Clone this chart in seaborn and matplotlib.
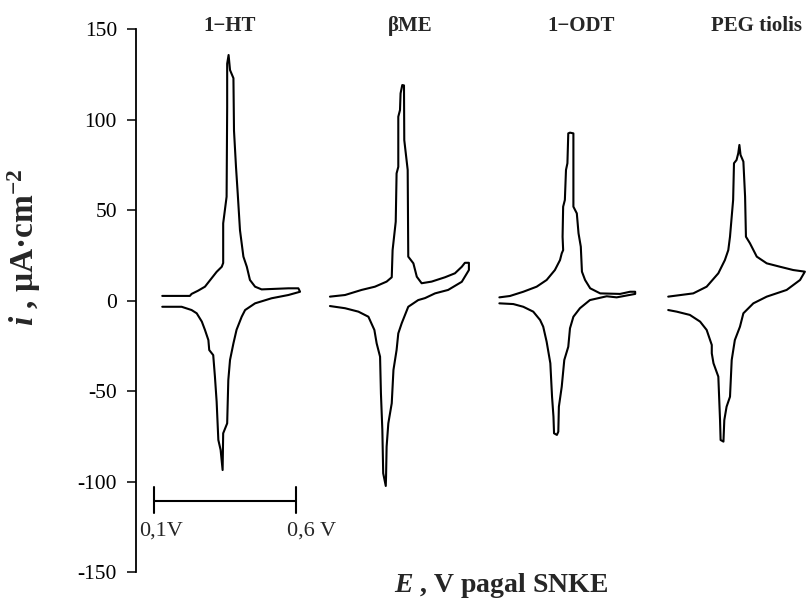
import matplotlib
matplotlib.use("Agg")
import pandas as pd
import matplotlib.pyplot as plt
import seaborn as sns

# cyclic voltammograms, potential on a common local scale (V), current in uA/cm2
# each trace: forward sweep left -> right, then back sweep right -> left
HT_E = [0.129, 0.226, 0.232, 0.255, 0.279, 0.303, 0.320, 0.338, 0.343, 0.343,
        0.355, 0.357, 0.357, 0.362, 0.367, 0.379, 0.381, 0.388, 0.394, 0.402,
        0.414, 0.426, 0.437, 0.455, 0.478, 0.572, 0.607, 0.613,
        0.572, 0.513, 0.455, 0.420, 0.408, 0.390, 0.379, 0.367, 0.361, 0.357,
        0.343, 0.341, 0.334, 0.326, 0.320, 0.314, 0.308, 0.294, 0.291, 0.279,
        0.268, 0.250, 0.232, 0.197, 0.129]
HT_I = [2.7, 2.7, 3.8, 5.6, 7.8, 12.6, 16.0, 18.8, 20.9, 42.8,
        57.5, 107.0, 131.0, 135.8, 127.5, 123.0, 94.0, 74.0, 59.4, 39.0,
        24.4, 18.8, 11.5, 7.8, 6.3, 6.9, 6.9, 5.0,
        3.2, 1.4, -1.4, -5.1, -8.8, -16.0, -23.5, -32.7, -43.8, -67.7,
        -73.2, -93.5, -82.4, -76.9, -55.7, -41.9, -30.0, -27.2, -21.7, -16.1,
        -11.5, -6.9, -5.1, -3.3, -3.3]

BME_E = [0.128, 0.181, 0.239, 0.286, 0.327, 0.345, 0.348, 0.359, 0.362, 0.368,
         0.368, 0.374, 0.376, 0.382, 0.388, 0.389, 0.401, 0.403, 0.421, 0.433,
         0.450, 0.485, 0.532, 0.567, 0.591, 0.602, 0.616,
         0.616, 0.591, 0.543, 0.497, 0.462, 0.438, 0.403, 0.380, 0.368, 0.362,
         0.351, 0.345, 0.333, 0.327, 0.325, 0.324, 0.315, 0.312, 0.307, 0.304,
         0.292, 0.284, 0.263, 0.228, 0.181, 0.128]
BME_I = [2.3, 3.2, 6.0, 7.8, 10.6, 13.0, 28.0, 43.7, 70.4, 74.0,
         101.7, 105.4, 114.6, 119.2, 119.0, 88.8, 72.3, 24.4, 20.7, 13.3,
         9.7, 10.6, 13.0, 15.2, 18.8, 21.0, 21.0,
         17.0, 10.5, 6.0, 4.1, 1.5, 0.4, -3.3, -12.4, -18.0, -27.2,
         -38.2, -56.6, -67.7, -80.6, -97.2, -102.3, -95.3, -71.4, -51.1, -30.9,
         -23.5, -16.1, -8.8, -6.0, -4.1, -2.9]

ODT_E = [0.133, 0.170, 0.217, 0.264, 0.299, 0.328, 0.346, 0.352, 0.357, 0.355,
         0.357, 0.363, 0.367, 0.372, 0.375, 0.381, 0.393, 0.393, 0.405, 0.411,
         0.419, 0.423, 0.434, 0.452, 0.487, 0.557, 0.592, 0.610,
         0.610, 0.545, 0.510, 0.451, 0.416, 0.393, 0.381, 0.375, 0.361, 0.352,
         0.342, 0.340, 0.335, 0.325, 0.323, 0.318, 0.312, 0.299, 0.287, 0.276,
         0.252, 0.217, 0.182, 0.133]
ODT_I = [1.9, 2.65, 5.0, 7.8, 11.5, 17.0, 22.5, 26.2, 28.0, 35.4,
         52.0, 55.7, 72.3, 76.0, 92.5, 92.9, 92.5, 52.0, 48.3, 37.3,
         29.9, 16.1, 11.5, 6.9, 4.1, 3.8, 5.0, 5.0,
         3.8, 1.9, 2.5, 0.4, -4.1, -8.8, -15.2, -25.4, -32.7, -47.5,
         -58.5, -72.3, -74.1, -73.2, -64.0, -53.0, -34.5, -22.6, -14.3, -10.6,
         -6.0, -3.3, -1.8, -1.4]

PEG_E = [0.136, 0.224, 0.271, 0.312, 0.335, 0.347, 0.353, 0.359, 0.364, 0.367,
         0.376, 0.382, 0.386, 0.390, 0.400, 0.406, 0.409, 0.423, 0.447, 0.482,
         0.529, 0.575, 0.616,
         0.599, 0.552, 0.482, 0.435, 0.400, 0.388, 0.370, 0.359, 0.353, 0.341,
         0.333, 0.330, 0.320, 0.318, 0.312, 0.295, 0.289, 0.289, 0.271, 0.248,
         0.212, 0.166, 0.136]
PEG_I = [2.3, 4.1, 7.8, 15.2, 22.5, 28.0, 35.4, 46.5, 55.7, 76.0,
         77.8, 81.5, 86.1, 80.6, 76.9, 57.5, 35.4, 31.8, 24.4, 20.7,
         18.8, 17.0, 16.1,
         11.5, 6.0, 2.3, -1.4, -6.9, -14.3, -21.7, -32.7, -53.0, -58.5,
         -65.9, -77.8, -76.9, -65.9, -41.9, -34.5, -29.0, -24.4, -16.1, -11.5,
         -7.8, -6.0, -5.1]

SAMPLES = ["1−HT", "βME", "1−ODT", "PEG tiolis"]
Y_TICKS = [-150, -100, -50, 0, 50, 100, 150]
SCALE_BAR = [0.1, 0.6]
SCALE_LABELS = ["0,1V", "0,6 V"]

# horizontal shift between the stacked voltammograms (V)
SHIFT = 0.59
TITLE_X = [0.367, 0.409, 0.419, 0.447]

sns.set_theme(style="white")
plt.rcParams["font.family"] = ["Liberation Serif", "DejaVu Serif"]
plt.rcParams["axes.unicode_minus"] = False
plt.rcParams["mathtext.fontset"] = "custom"
plt.rcParams["mathtext.rm"] = "Liberation Serif"
plt.rcParams["mathtext.it"] = "Liberation Serif:italic"
plt.rcParams["mathtext.bf"] = "Liberation Serif:bold"
plt.rcParams["mathtext.bfit"] = "Liberation Serif:italic:bold"

curves = [(HT_E, HT_I), (BME_E, BME_I), (ODT_E, ODT_I), (PEG_E, PEG_I)]
frames = []
for k, (name, (e, i)) in enumerate(zip(SAMPLES, curves)):
    frames.append(pd.DataFrame({
        "E": [v + k * SHIFT for v in e],
        "i": i,
        "sample": name,
    }))
df = pd.concat(frames, ignore_index=True)

fig = plt.figure(figsize=(8.12, 6.0), dpi=100)
ax = fig.add_axes([136 / 812, 27.7 / 600, 676 / 812, 543 / 600])

sns.lineplot(data=df, x="E", y="i", units="sample", estimator=None, sort=False,
             color="black", linewidth=1.5, ax=ax)

for k, name in enumerate(SAMPLES):
    ax.text(TITLE_X[k] + k * SHIFT, 151.8, name, ha="center", va="center",
            fontsize=15, fontweight="bold", clip_on=False)

# potential scale bar instead of an x axis
ax.plot(SCALE_BAR, [-110.4, -110.4], color="black", lw=1.5)
for xv in SCALE_BAR:
    ax.plot([xv, xv], [-102.7, -117.4], color="black", lw=1.5)
ax.text(SCALE_BAR[0] + 0.024, -127, SCALE_LABELS[0], ha="center", va="center", fontsize=16)
ax.text(SCALE_BAR[1] + 0.055, -127, SCALE_LABELS[1], ha="center", va="center", fontsize=16)

ax.set_xlim(0.0368, 2.411)
ax.set_ylim(-150, 150)
ax.set_yticks(Y_TICKS)
ax.set_yticklabels([str(t) for t in Y_TICKS])
ax.set_xticks([])
ax.set_xlabel("")
ax.set_ylabel("")
for side in ["top", "right", "bottom"]:
    ax.spines[side].set_visible(False)
ax.spines["left"].set_color("black")
ax.spines["left"].set_linewidth(1.3)
ax.tick_params(axis="y", direction="out", length=6.7, width=1.1, pad=7,
               labelsize=15.5, colors="black", left=True)

fig.text(24 / 812, 1 - 247 / 600, r"$\mathbfit{i}$ , μA·cm$^{\mathbf{-2}}$",
         rotation=90, ha="center", va="center", fontsize=24, fontweight="bold")
fig.text(501 / 812, 1 - 592 / 600, r"$\mathbfit{E}$ , V pagal SNKE",
         ha="center", va="baseline", fontsize=20, fontweight="bold")

fig.savefig("out.png", dpi=100)
